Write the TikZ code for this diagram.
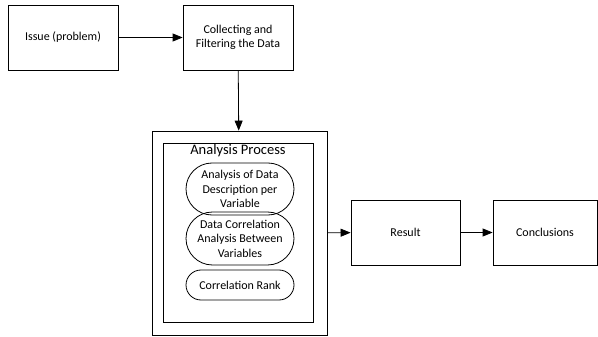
\documentclass[tikz,border=0pt]{standalone}
\usepackage{fontspec}
\setmainfont{Carlito}
\usetikzlibrary{arrows.meta,positioning,shapes.misc}

\tikzset{
  box/.style={draw,line width=0.8pt,minimum width=110pt,minimum height=65pt,
    inner sep=2pt,align=center,font=\fontsize{12}{14.5}\selectfont},
  pill/.style={draw,rounded rectangle,line width=0.8pt,minimum width=110pt,
    inner sep=1pt,align=center,font=\fontsize{12}{14.5}\selectfont},
  flow/.style={line width=0.8pt,-{Triangle[length=10pt,width=8pt]}}
}

\begin{document}
\begin{tikzpicture}[x=1pt,y=-1pt]
\useasboundingbox (0,0) rectangle (598,337);

% top row
\node[box] (issue) at (63,37.5) {Issue (problem)};
\node[box] (collect) at (238,37.5) {Collecting and\\Filtering the Data};

% analysis block
\node[draw,line width=0.8pt,minimum width=175pt,minimum height=204pt] (outer) at (239.5,233) {};
\node[draw,line width=0.8pt,minimum width=150pt,minimum height=179pt] (inner) at (238,232.5) {};
\node[font=\fontsize{14.5}{16}\selectfont] (title) at (238,151) {Analysis Process};
\node[pill,minimum height=52pt] (descr) at (240,189) {Analysis of Data\\Description per\\Variable};
\node[pill,minimum height=53pt] (correl) at (240,238.5) {Data Correlation\\Analysis Between\\Variables};
\node[pill,minimum height=30pt] (rank) at (240,285) {Correlation Rank};

% bottom row
\node[box,minimum width=109pt] (result) at (405.5,232.5) {Result};
\node[box,minimum width=104pt] (concl) at (545,232.5) {Conclusions};

\draw[flow] (issue) -- (collect);
\draw[flow] (collect) -- (outer);
\draw[flow] (outer) -- (result);
\draw[flow] (result) -- (concl);
\end{tikzpicture}
\end{document}
